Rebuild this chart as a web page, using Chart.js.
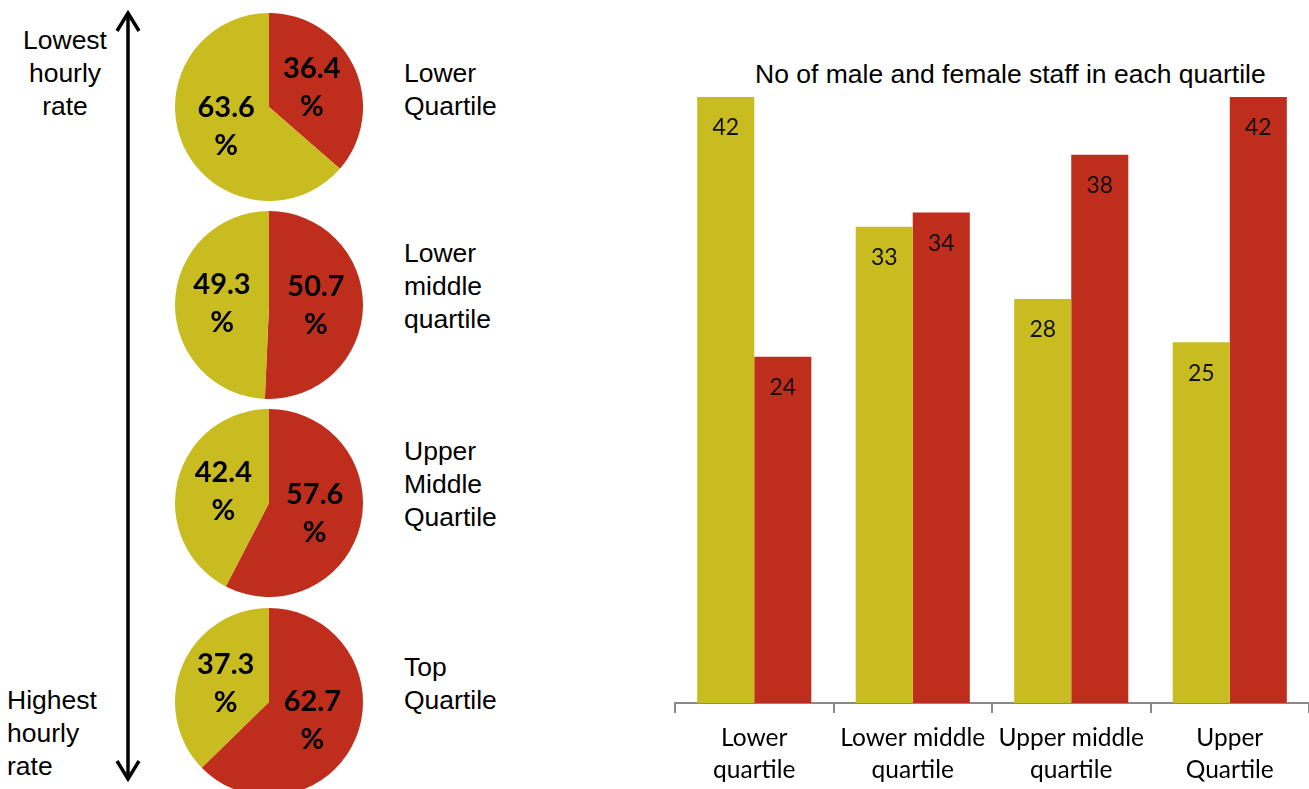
<!DOCTYPE html>
<html>
<head>
<meta charset="utf-8">
<script src="https://cdn.jsdelivr.net/npm/chart.js@4.4.0/dist/chart.umd.min.js"></script>
<style>
  html, body { margin: 0; padding: 0; background: #fff; }
  body { width: 1309px; height: 789px; position: relative; overflow: hidden; }
  .txt { position: absolute; font-family: "Liberation Sans", Arial, sans-serif; font-size: 26.5px; line-height: 33px; color: #000; white-space: nowrap; }
  .pie { position: absolute; }
  #barWrap { position: absolute; left: 660px; top: 0; width: 649px; height: 789px; }
  #title { position: absolute; left: 755px; top: 59px; font-family: "Liberation Sans", Arial, sans-serif; font-size: 26.5px; line-height: 30px; white-space: nowrap; color: #000; }
</style>
</head>
<body>
<script>
// ---- data ----
const categories = ["Lower quartile", "Lower middle quartile", "Upper middle quartile", "Upper Quartile"];
const categoryTickLabels = [["Lower", "quartile"], ["Lower middle", "quartile"], ["Upper middle", "quartile"], ["Upper", "Quartile"]];
const pieTitles = [["Lower", "Quartile"], ["Lower", "middle", "quartile"], ["Upper", "Middle", "Quartile"], ["Top", "Quartile"]];
const femaleCounts = [42, 33, 28, 25];
const maleCounts = [24, 34, 38, 42];
const malePct = [36.4, 50.7, 57.6, 62.7];
const femalePct = [63.6, 49.3, 42.4, 37.3];
const barTitle = "No of male and female staff in each quartile";
const arrowTopText = ["Lowest", "hourly", "rate"];
const arrowBottomText = ["Highest", "hourly", "rate"];
</script>

<svg width="1309" height="789" style="position:absolute;left:0;top:0">
  <line x1="128" y1="13" x2="128" y2="779" stroke="#000" stroke-width="3.5"/>
  <polyline points="117,31 128,13 139,31" fill="none" stroke="#000" stroke-width="3.5"/>
  <polyline points="117,761 128,779 139,761" fill="none" stroke="#000" stroke-width="3.5"/>
</svg>

<div id="topTxt" class="txt" style="left:0;top:24px;width:130px;text-align:center"></div>
<div id="botTxt" class="txt" style="left:7px;top:684px"></div>
<div id="qt0" class="txt" style="left:404px;top:57px"></div>
<div id="qt1" class="txt" style="left:404px;top:237px"></div>
<div id="qt2" class="txt" style="left:404px;top:435px"></div>
<div id="qt3" class="txt" style="left:404px;top:651px"></div>

<canvas id="pie0" class="pie" width="188" height="188" style="left:175px;top:13px;width:188px;height:188px"></canvas>
<canvas id="pie1" class="pie" width="188" height="188" style="left:175px;top:211px;width:188px;height:188px"></canvas>
<canvas id="pie2" class="pie" width="188" height="188" style="left:175px;top:409px;width:188px;height:188px"></canvas>
<canvas id="pie3" class="pie" width="188" height="188" style="left:175px;top:608px;width:188px;height:188px"></canvas>

<div id="title"></div>
<div id="barWrap"><canvas id="bar"></canvas></div>

<script>
const RED = "#BF2E1C";
const YELLOW = "#C9BC21";

document.getElementById("topTxt").innerHTML = arrowTopText.join("<br>");
document.getElementById("botTxt").innerHTML = arrowBottomText.join("<br>");
pieTitles.forEach((t, i) => { document.getElementById("qt" + i).innerHTML = t.join("<br>"); });
document.getElementById("title").textContent = barTitle;

const pieLabelPlugin = {
  id: "pieLabels",
  afterDatasetsDraw(chart) {
    const ctx = chart.ctx;
    const meta = chart.getDatasetMeta(0);
    const data = chart.data.datasets[0].data;
    ctx.save();
    ctx.font = "bold 29px Lato, 'Noto Sans', sans-serif";
    ctx.fillStyle = "#000";
    ctx.textAlign = "center";
    ctx.textBaseline = "middle";
    meta.data.forEach((arc, i) => {
      const p = arc.getProps(["x", "y", "startAngle", "endAngle", "outerRadius"], true);
      const mid = (p.startAngle + p.endAngle) / 2;
      const r = p.outerRadius * 0.5;
      const x = p.x + Math.cos(mid) * r;
      const y = p.y + Math.sin(mid) * r;
      ctx.fillText(data[i].toFixed(1), x, y - 19);
      ctx.fillText("%", x, y + 19);
    });
    ctx.restore();
  }
};

for (let i = 0; i < 4; i++) {
  new Chart(document.getElementById("pie" + i), {
    type: "pie",
    data: {
      labels: ["Male", "Female"],
      datasets: [{
        data: [malePct[i], femalePct[i]],
        backgroundColor: [RED, YELLOW],
        borderWidth: 0
      }]
    },
    options: {
      responsive: false,
      animation: false,
      layout: { padding: 0 },
      plugins: { legend: { display: false }, tooltip: { enabled: false }, title: { display: false } }
    },
    plugins: [pieLabelPlugin]
  });
}

const barLabelPlugin = {
  id: "barLabels",
  afterDatasetsDraw(chart) {
    const ctx = chart.ctx;
    ctx.save();
    ctx.font = "23px Lato, 'Noto Sans', sans-serif";
    ctx.fillStyle = "#111";
    ctx.textAlign = "center";
    ctx.textBaseline = "middle";
    chart.data.datasets.forEach((ds, di) => {
      chart.getDatasetMeta(di).data.forEach((bar, i) => {
        ctx.fillText(String(ds.data[i]), bar.x, bar.y + 31);
      });
    });
    ctx.restore();
  }
};

new Chart(document.getElementById("bar"), {
  type: "bar",
  data: {
    labels: categoryTickLabels,
    datasets: [
      { label: "Female", data: femaleCounts, backgroundColor: YELLOW, borderWidth: 0 },
      { label: "Male", data: maleCounts, backgroundColor: RED, borderWidth: 0 }
    ]
  },
  options: {
    responsive: true,
    maintainAspectRatio: false,
    animation: false,
    layout: { padding: { left: 15, right: 0, top: 97, bottom: 0 } },
    datasets: { bar: { barPercentage: 1.0, categoryPercentage: 0.72 } },
    scales: {
      y: { display: false, min: 0, max: 42 },
      x: {
        grid: { display: true, offset: true, drawOnChartArea: false, drawTicks: true, tickLength: 10, color: "#898989", lineWidth: 2 },
        border: { display: true, color: "#898989", width: 2 },
        ticks: { color: "#000", font: { family: "Lato, 'Noto Sans', sans-serif", size: 24.5, lineHeight: 1.3 }, padding: 9, maxRotation: 0, autoSkip: false },
        afterFit(scale) { scale.height = 86; }
      }
    },
    plugins: { legend: { display: false }, tooltip: { enabled: false }, title: { display: false } }
  },
  plugins: [barLabelPlugin]
});
</script>
</body>
</html>
